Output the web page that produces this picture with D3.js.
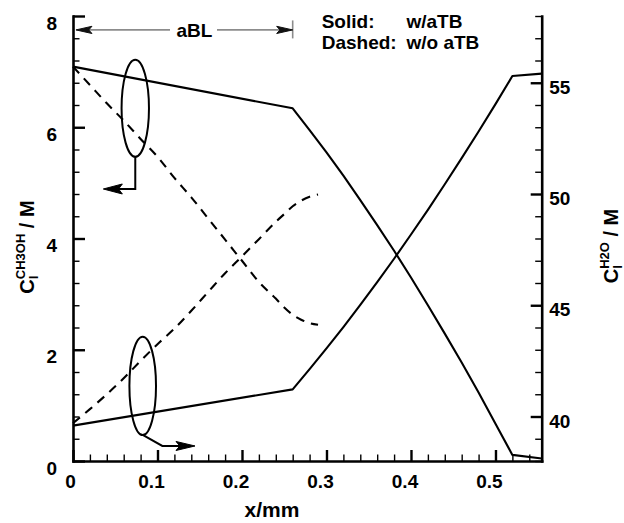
<!DOCTYPE html>
<html><head><meta charset="utf-8">
<script src="https://cdn.jsdelivr.net/npm/d3@7"></script>
<style>
body{margin:0;background:#fff}
svg text{font-family:"Liberation Sans",Arial,Helvetica,sans-serif;font-weight:bold;fill:#000}
</style>
</head><body>
<svg id="chart" width="624" height="523"></svg>
<script>
// ---------- DATA ----------
// Solid (w/aTB) CH3OH, left axis
const solidCH3OH_x = [0, 0.26, 0.28, 0.30, 0.32, 0.34, 0.36, 0.38, 0.40, 0.42, 0.44, 0.46, 0.48, 0.50, 0.52, 0.5547];
const solidCH3OH_y = [7.09, 6.34, 5.95, 5.55, 5.13, 4.69, 4.24, 3.78, 3.30, 2.80, 2.29, 1.77, 1.23, 0.67, 0.11, 0.045];
// Solid (w/aTB) H2O, right axis
const solidH2O_x = [0, 0.26, 0.28, 0.30, 0.32, 0.34, 0.36, 0.38, 0.40, 0.42, 0.44, 0.46, 0.48, 0.50, 0.52, 0.5547];
const solidH2O_y = [39.59, 41.22, 42.13, 43.06, 44.02, 45.02, 46.04, 47.09, 48.18, 49.29, 50.44, 51.61, 52.81, 54.04, 55.30, 55.41];
// Dashed (w/o aTB) CH3OH, left axis
const dashCH3OH_x = [0, 0.02, 0.04, 0.06, 0.08, 0.10, 0.12, 0.14, 0.16, 0.18, 0.20, 0.22, 0.24, 0.25, 0.26, 0.27, 0.28, 0.29];
const dashCH3OH_y = [7.09, 6.76, 6.43, 6.12, 5.79, 5.47, 5.09, 4.74, 4.36, 3.98, 3.60, 3.22, 2.92, 2.76, 2.63, 2.54, 2.48, 2.45];
// Dashed (w/o aTB) H2O, right axis
const dashH2O_x = [0, 0.02, 0.04, 0.06, 0.08, 0.10, 0.12, 0.14, 0.16, 0.18, 0.20, 0.22, 0.24, 0.25, 0.26, 0.27, 0.28, 0.29];
const dashH2O_y = [39.70, 40.33, 41.00, 41.72, 42.50, 43.25, 43.95, 44.75, 45.60, 46.44, 47.20, 47.97, 48.75, 49.10, 49.45, 49.70, 49.88, 49.98];

// Ticks
const xTicks = [0, 0.1, 0.2, 0.3, 0.4, 0.5];
const xTickLabels = ["0", "0.1", "0.2", "0.3", "0.4", "0.5"];
const yLeftTicks = [0, 2, 4, 6, 8];
const yLeftTickLabels = ["0", "2", "4", "6", "8"];
const yRightTicks = [40, 45, 50, 55];
const yRightTickLabels = ["40", "45", "50", "55"];

// Text
const legendLines = [["Solid:", "w/aTB"], ["Dashed:", "w/o aTB"]];
const xTitle = "x/mm";

// ---------- LAYOUT ----------
const svg = d3.select("#chart");
const X0 = 73, X1 = 541.7, Y0 = 461, Y1 = 16;
const x = d3.scaleLinear().domain([0, 0.5547]).range([X0, X1]);
const yL = d3.scaleLinear().domain([0, 8]).range([Y0, Y1]);
const yR = d3.scaleLinear().domain([38, 58]).range([Y0, Y1]);

const tickFont = 19;

// minor ticks
const xMinor = d3.range(0, 28).filter(i => i % 5 !== 0).map(i => i * 0.02);
const yLMinor = d3.range(0, 21).filter(i => i % 5 !== 0).map(i => i * 0.4);
const yRMinor = d3.range(38, 59).filter(v => v % 5 !== 0);

function styleMinor(g){
  g.select(".domain").remove();
  g.selectAll(".tick line").attr("stroke", "#000").attr("stroke-width", 1.4);
}
function styleMajor(g){
  g.select(".domain").attr("stroke", "#000").attr("stroke-width", 2.6).attr("stroke-linecap", "square");
  g.selectAll(".tick line").attr("stroke", "#000").attr("stroke-width", 2.4);
  g.selectAll(".tick text").attr("font-size", tickFont).attr("font-family", null);
}

// X axis
svg.append("g").attr("transform", `translate(0,${Y0})`)
  .call(d3.axisBottom(x).tickValues(xMinor).tickSize(-6.5).tickFormat(""))
  .call(styleMinor);
const gx = svg.append("g").attr("transform", `translate(0,${Y0})`)
  .call(d3.axisBottom(x).tickValues(xTicks).tickSize(-11).tickSizeOuter(0).tickPadding(14)
    .tickFormat((d, i) => xTickLabels[i]))
  .call(styleMajor);
gx.selectAll(".tick text").attr("dx", (d, i) => i === 0 ? -3 : -6.5);

// Left axis
svg.append("g").attr("transform", `translate(${X0},0)`)
  .call(d3.axisLeft(yL).tickValues(yLMinor).tickSize(-6.5).tickFormat(""))
  .call(styleMinor);
const gl = svg.append("g").attr("transform", `translate(${X0},0)`)
  .call(d3.axisLeft(yL).tickValues(yLeftTicks).tickSize(-12).tickSizeOuter(0).tickPadding(16)
    .tickFormat((d, i) => yLeftTickLabels[i]))
  .call(styleMajor);
gl.selectAll(".tick text").attr("y", 7);

// Right axis
svg.append("g").attr("transform", `translate(${X1},0)`)
  .call(d3.axisRight(yR).tickValues(yRMinor).tickSize(-6.5).tickFormat(""))
  .call(styleMinor);
const gr = svg.append("g").attr("transform", `translate(${X1},0)`)
  .call(d3.axisRight(yR).tickValues(yRightTicks).tickSize(-11).tickSizeOuter(0).tickPadding(7.5)
    .tickFormat((d, i) => yRightTickLabels[i]))
  .call(styleMajor);
gr.selectAll(".tick text").attr("y", 4.5);

// ---------- LINES ----------
const lineL = d3.line().x(d => x(d[0])).y(d => yL(d[1]));
const lineR = d3.line().x(d => x(d[0])).y(d => yR(d[1]));
const zip = (a, b) => a.map((v, i) => [v, b[i]]);

svg.append("path").datum(zip(solidCH3OH_x, solidCH3OH_y))
  .attr("d", lineL).attr("fill", "none").attr("stroke", "#000").attr("stroke-width", 2.1).attr("stroke-linejoin", "round");
svg.append("path").datum(zip(solidH2O_x, solidH2O_y))
  .attr("d", lineR).attr("fill", "none").attr("stroke", "#000").attr("stroke-width", 2.1).attr("stroke-linejoin", "round");
svg.append("path").datum(zip(dashCH3OH_x, dashCH3OH_y))
  .attr("d", lineL.curve(d3.curveMonotoneX)).attr("fill", "none").attr("stroke", "#000")
  .attr("stroke-width", 2.1).attr("stroke-dasharray", "9,7");
svg.append("path").datum(zip(dashH2O_x, dashH2O_y))
  .attr("d", lineR.curve(d3.curveMonotoneX)).attr("fill", "none").attr("stroke", "#000")
  .attr("stroke-width", 2.1).attr("stroke-dasharray", "9,7");

// ---------- ANNOTATIONS ----------
const ann = svg.append("g").attr("fill", "none").attr("stroke", "#000").attr("stroke-width", 2);
function arrowHead(g, tipX, tipY, dir, len, half, color){
  g.append("path")
    .attr("d", `M${tipX},${tipY}L${tipX - dir*len},${tipY - half}L${tipX - dir*len*0.8},${tipY}L${tipX - dir*len},${tipY + half}Z`)
    .attr("fill", color).attr("stroke", color).attr("stroke-width", 1);
}
// top ellipse (CH3OH -> left axis)
ann.append("ellipse").attr("cx", x(0.0737)).attr("cy", yL(6.34)).attr("rx", 13.7).attr("ry", 48.5);
ann.append("path").attr("d", `M${x(0.0737)},${yL(5.47)}V${yL(4.89)}H${x(0.0359) + 10}`);
arrowHead(svg, x(0.0359), yL(4.89), -1, 19, 5, "#000");
// bottom ellipse (H2O -> right axis)
ann.append("ellipse").attr("cx", x(0.0825)).attr("cy", yL(1.35)).attr("rx", 13.3).attr("ry", 49.2);
ann.append("path").attr("d", `M${x(0.0825)},${yL(0.468)}L${x(0.1057)},${yL(0.27)}H${x(0.1444) - 10}`);
arrowHead(svg, x(0.1444), yL(0.27), 1, 19, 4.5, "#000");

// aBL dimension line
const aY = yL(7.75);
const gray = "#8c8c8c";
svg.append("line").attr("x1", x(0.0035) + 8).attr("x2", 170).attr("y1", aY).attr("y2", aY).attr("stroke", gray).attr("stroke-width", 1.6);
svg.append("line").attr("x1", 217).attr("x2", x(0.26) - 8).attr("y1", aY).attr("y2", aY).attr("stroke", gray).attr("stroke-width", 1.6);
svg.append("line").attr("x1", x(0.26)).attr("x2", x(0.26)).attr("y1", aY - 9.5).attr("y2", aY + 8.5).attr("stroke", gray).attr("stroke-width", 1.6);
arrowHead(svg, x(0.0035), aY, -1, 16, 3.6, "#111");
arrowHead(svg, x(0.26), aY, 1, 16, 3.6, "#111");
svg.append("text").attr("x", 194.5).attr("y", 37.3).attr("text-anchor", "middle").attr("font-size", 19).text("aBL");

// legend
legendLines.forEach((l, i) => {
  const by = [28.3, 49][i];
  svg.append("text").attr("x", 321.7).attr("y", by).attr("font-size", 19).text(l[0]);
  svg.append("text").attr("x", 406.5).attr("y", by).attr("font-size", 19).text(l[1]);
});

// axis titles
svg.append("text").attr("x", 272).attr("y", 516.7).attr("text-anchor", "middle").attr("font-size", 21).text(xTitle);

function yTitle(tx, ty, sup){
  const t = svg.append("text").attr("text-anchor", "middle").attr("font-size", 20)
    .attr("transform", `translate(${tx},${ty}) rotate(-90)`);
  t.append("tspan").text("C");
  t.append("tspan").attr("font-size", 13).attr("dy", 4).text("l");
  t.append("tspan").attr("font-size", 13).attr("dx", -3.6).attr("dy", -13).text(sup);
  t.append("tspan").attr("dy", 9).text(" / M");
}
yTitle(33.5, 247, "CH3OH");
yTitle(617.5, 246, "H2O");
</script>
</body></html>
